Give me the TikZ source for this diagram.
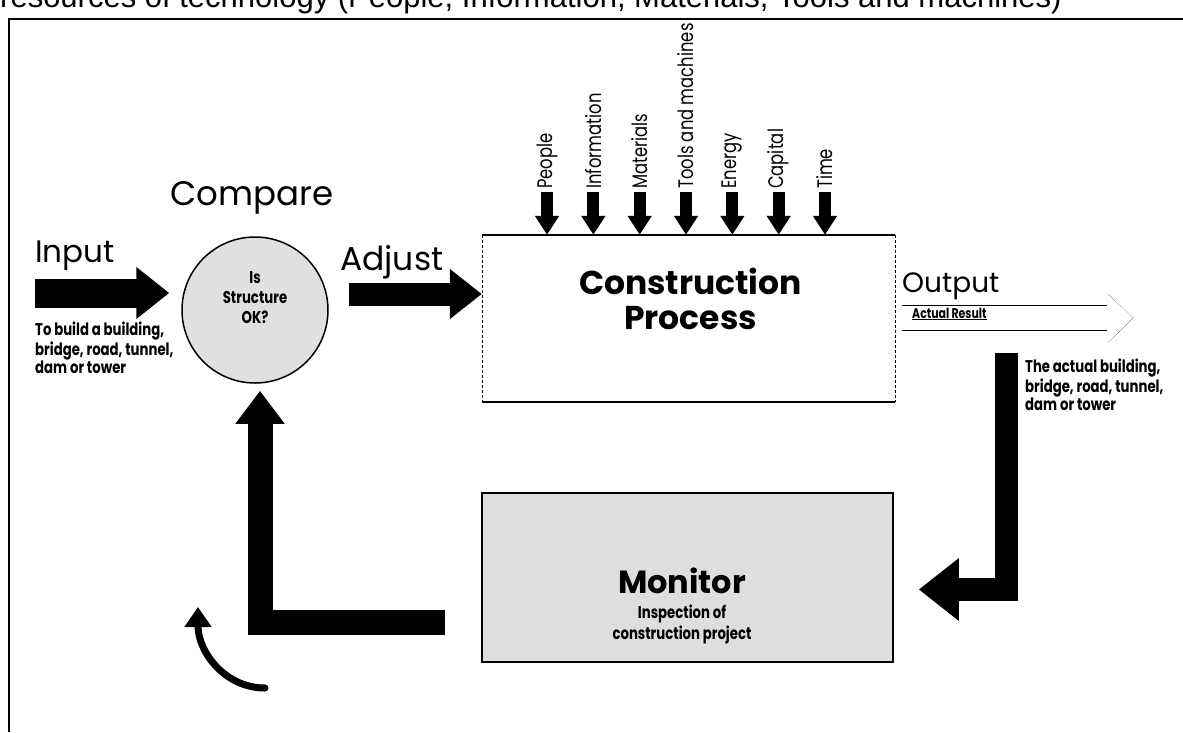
\documentclass[tikz,border=0pt]{standalone}
\usepackage{fontspec}
\setmainfont{Poppins}
\newfontfamily\condfont[FakeStretch=0.78]{Poppins}
\newfontfamily\headfont{Liberation Sans}
\usetikzlibrary{calc,positioning,arrows.meta}

\begin{document}
\begin{tikzpicture}[x=1pt, y=-1pt,
  bigarrow/.style={line width=24pt, -{Triangle[length=33pt, width=50pt]}},
  resarrow/.style={line width=12pt, -{Triangle[length=19pt, width=23pt]}},
  reslabel/.style={rotate=90, anchor=west, inner sep=1pt, font=\condfont\fontsize{21}{21}\selectfont},
  smalltext/.style={align=left, inner sep=0pt, font=\condfont\bfseries\fontsize{17}{18}\selectfont},
  title/.style={anchor=base, inner sep=0pt, font=\fontsize{31}{31}\selectfont}]
\useasboundingbox (0,0) rectangle (1183,732);
\clip (0,0) rectangle (1183,732);

% heading line, cut off at the top
\node[anchor=base west, inner sep=0pt, font=\headfont\fontsize{31}{31}\selectfont] (heading) at (0,7)
  {resources of technology (People, Information, Materials, Tools and machines)};
\draw[line width=2pt] (9,732) -- (9,18.5) -- (1183,18.5);

% compare
\node[circle, draw, line width=1.5pt, fill=black!12, minimum size=146pt, inner sep=0pt] (compare) at (255,310) {};
\node[align=center, inner sep=0pt, font=\condfont\bfseries\fontsize{17}{20}\selectfont] (compq)
  at ($(compare.center)+(0,-12)$) {Is\\Structure\\OK?};
\node[title, font=\fontsize{34}{34}\selectfont] (comptitle) at (252,205) {Compare};

% process box
\node[minimum width=413pt, minimum height=167pt, inner sep=0pt] (process) at (688.5,318.5) {};
\draw[line width=1.5pt] (process.north west) -- (process.north east) (process.south west) -- (process.south east);
\draw[densely dashed] (process.north west) -- (process.south west) (process.north east) -- (process.south east);
\node[align=center, inner sep=0pt, font=\bfseries\fontsize{33}{35}\selectfont] (proctext)
  at ($(process.center)+(2,-20)$) {Construction\\Process};

% monitor box
\node[draw, line width=1.5pt, fill=black!13, minimum width=411pt, minimum height=169pt, inner sep=0pt] (monitor) at (687.5,577.5) {};
\node[anchor=base, inner sep=0pt, font=\bfseries\fontsize{32}{32}\selectfont] (montitle) at (682,593) {Monitor};
\node[below=11pt of montitle, align=center, inner sep=0pt, font=\condfont\bfseries\fontsize{17}{21}\selectfont] (monsub)
  {Inspection of\\construction project};

% input
\node[title, anchor=base west] (inputlab) at (35,262) {Input};
\coordinate (instart) at (35,293);
\draw[bigarrow, line width=29pt] (instart) -- ($(compare.west)+(-12,-17)$);
\node[smalltext, anchor=north west] (inputtxt) at (35,322) {To build a building,\\bridge, road, tunnel,\\dam or tower};

% adjust
\node[title, anchor=base west, font=\fontsize{33}{33}\selectfont] (adjustlab) at (340,270) {Adjust};
\draw[bigarrow, line width=23pt, -{Triangle[length=32pt, width=48pt]}] ($(compare.east)+(20,-16)$) -- ($(process.west)+(0,-24.5)$);

% resources
\foreach \lab [count=\i] in {People,Information,Materials,Tools and machines,Energy,Capital,Time}{
  \node[reslabel] (res\i) at (500.7+46.33*\i,190) {\lab};
  \draw[resarrow, shorten <=2pt] (res\i.west) -- (res\i.west |- process.north);
}

% output
\node[title, anchor=base west, font=\fontsize{28}{28}\selectfont] (outputlab) at (902,292) {Output};
\coordinate (outtail) at ($(process.east)+(7,-1)$);
\coordinate (outtip) at ($(outtail)+(231,0)$);
\draw[thin] ($(outtail)+(0,-12.5)$) -- ++(205,0);
\draw[thin] ($(outtail)+(0,12.5)$) -- ++(205,0);
\draw[densely dotted] ($(outtail)+(206,-23)$) -- (outtip) -- ($(outtail)+(206,25)$);
\node[anchor=base west, inner sep=0pt, font=\condfont\bfseries\fontsize{14}{14}\selectfont] (actual) at (912,318) {\underline{Actual Result}};
\node[smalltext, anchor=north west] (outtxt) at (1025,359) {The actual building,\\bridge, road, tunnel,\\dam or tower};

% back to monitor
\coordinate (outbar) at (1006,353);
\draw[bigarrow, line width=23pt, -{Triangle[length=40pt, width=60pt]}] (outbar) |- ($(monitor.east)+(25,12)$);

% feedback to compare
\draw[bigarrow, line width=25pt, -{Triangle[length=33pt, width=47pt]}] ($(monitor.west)+(-36,45)$) -| ($(compare.south)+(5,7)$);

\coordinate (curvestart) at (265,688);
\coordinate (curveend) at (198,607);
\draw[line width=7pt, line cap=round, -{Triangle[length=20pt, width=26pt]}] (curvestart) .. controls +(-40,0) and +(0,45) .. (curveend);
\end{tikzpicture}
\end{document}
